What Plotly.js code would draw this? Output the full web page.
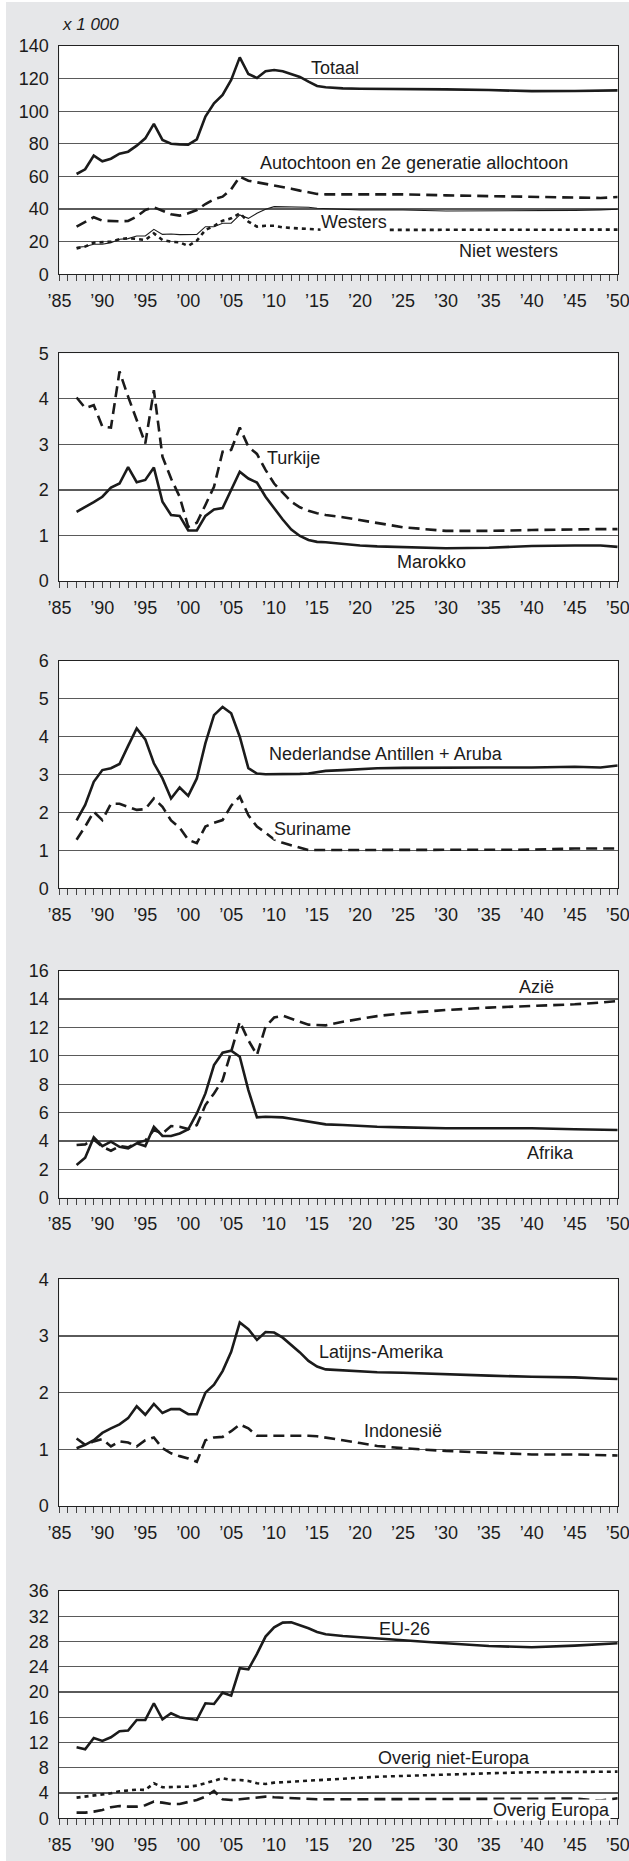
<!DOCTYPE html>
<html><head><meta charset="utf-8">
<script src="https://cdn.plot.ly/plotly-3.0.1.min.js"></script>
<style>html,body{margin:0;padding:0;background:#fff;} #chart{position:absolute;left:0;top:0;width:629px;height:1861px;}</style>
</head><body><div id="chart"></div>
<script>
const years = [1987,1988,1989,1990,1991,1992,1993,1994,1995,1996,1997,1998,1999,2000,2001,2002,2003,2004,2005,2006,2007,2008,2009,2010,2011,2012,2013,2014,2015,2016,2018,2020,2022,2025,2030,2035,2040,2045,2048,2050];

const totaal = [61.5,64.4,72.8,69.3,70.9,74.0,75.2,78.9,83.4,92.2,82.4,80.1,79.7,79.5,82.8,96.7,104.8,110.0,119.2,133.0,122.8,120.4,124.5,125.3,124.5,122.8,121.0,118.1,115.5,114.7,114.0,113.8,113.8,113.8,113.4,113.0,112.3,112.4,112.8,112.8];
const autochtoon = [29.2,32.3,35.0,32.9,32.5,32.5,32.7,35.4,39.4,41.1,39.0,36.8,36.0,37.4,39.4,43.1,46.0,47.6,52.1,59.9,57.4,56.4,55.8,54.8,53.7,52.5,51.3,50.1,49.3,49.0,49.0,49.0,49.0,49.0,48.4,48.0,47.4,47.2,46.8,47.4];
const westers = [16.5,17.0,18.4,18.4,19.4,21.5,21.9,23.5,23.5,27.6,24.5,24.7,24.3,24.3,24.5,29.2,29.2,31.3,31.3,36.4,34.3,37.4,39.9,41.5,41.5,41.5,41.3,41.1,40.5,40.2,39.9,39.4,39.4,39.4,38.8,38.8,38.8,39.2,39.5,39.9];
const nietWesters = [15.9,17.0,19.4,19.6,20.0,21.5,22.1,21.7,21.0,25.1,21.0,20.0,19.6,17.4,20.6,27.2,29.6,32.9,34.3,37.4,32.3,29.2,29.8,29.8,28.8,28.4,28.0,27.6,27.2,27.2,27.2,27.2,27.2,27.2,27.2,27.2,27.2,27.3,27.4,27.4];

const turkije = [4.03,3.80,3.86,3.39,3.37,4.60,4.05,3.54,3.02,4.19,2.73,2.25,1.85,1.19,1.28,1.67,2.07,2.84,2.88,3.37,2.95,2.79,2.44,2.14,1.93,1.74,1.62,1.54,1.49,1.45,1.40,1.34,1.27,1.18,1.10,1.10,1.12,1.14,1.14,1.14];
const marokko = [1.52,1.62,1.73,1.85,2.05,2.14,2.50,2.17,2.22,2.49,1.74,1.45,1.43,1.11,1.11,1.43,1.57,1.60,2.00,2.40,2.25,2.16,1.85,1.60,1.35,1.13,0.99,0.90,0.86,0.85,0.81,0.78,0.76,0.74,0.72,0.73,0.77,0.78,0.78,0.75];

const antillen = [1.79,2.20,2.81,3.12,3.17,3.28,3.76,4.22,3.93,3.30,2.90,2.37,2.66,2.44,2.90,3.83,4.57,4.79,4.62,4.00,3.17,3.03,3.01,3.01,3.01,3.01,3.02,3.03,3.06,3.10,3.12,3.15,3.17,3.18,3.19,3.19,3.19,3.21,3.19,3.24];
const suriname = [1.28,1.63,2.02,1.80,2.23,2.23,2.15,2.07,2.09,2.37,2.15,1.79,1.60,1.28,1.19,1.63,1.73,1.80,2.18,2.42,1.93,1.63,1.47,1.29,1.20,1.13,1.06,1.01,1.01,1.01,1.01,1.01,1.01,1.01,1.01,1.01,1.02,1.05,1.05,1.05];

const azie = [3.71,3.76,4.11,3.59,3.31,3.64,3.55,3.88,4.02,4.77,4.53,5.05,5.00,4.84,5.12,6.53,7.35,8.29,10.30,12.40,11.10,10.06,12.05,12.70,12.83,12.64,12.40,12.20,12.15,12.15,12.40,12.60,12.80,13.00,13.23,13.40,13.50,13.63,13.75,13.86];
const afrika = [2.30,2.82,4.25,3.64,3.95,3.59,3.48,3.83,3.64,5.00,4.35,4.35,4.53,4.82,5.94,7.35,9.35,10.22,10.36,9.94,7.59,5.66,5.71,5.71,5.66,5.57,5.47,5.36,5.24,5.17,5.12,5.05,5.00,4.96,4.89,4.89,4.89,4.82,4.80,4.77];

const latijnsAmerika = [1.02,1.08,1.16,1.29,1.37,1.44,1.55,1.76,1.61,1.80,1.64,1.71,1.71,1.62,1.62,2.00,2.14,2.38,2.72,3.24,3.12,2.93,3.07,3.06,2.97,2.84,2.71,2.56,2.46,2.41,2.39,2.38,2.36,2.35,2.32,2.30,2.28,2.27,2.25,2.24];
const indonesie = [1.19,1.08,1.14,1.18,1.05,1.14,1.12,1.05,1.16,1.21,1.02,0.93,0.88,0.84,0.78,1.16,1.21,1.22,1.32,1.44,1.37,1.24,1.24,1.24,1.25,1.25,1.25,1.24,1.23,1.21,1.16,1.11,1.06,1.02,0.97,0.94,0.91,0.91,0.90,0.89];

const eu26 = [11.25,10.93,12.72,12.25,12.83,13.78,13.89,15.58,15.58,18.22,15.68,16.63,16.00,15.73,15.58,18.22,18.11,19.90,19.43,23.76,23.60,26.03,28.78,30.25,30.99,31.05,30.62,30.10,29.51,29.14,28.88,28.67,28.51,28.25,27.72,27.30,27.09,27.35,27.55,27.72];
const overigNietEuropa = [3.27,3.43,3.59,3.80,3.96,4.28,4.38,4.54,4.49,5.54,4.91,4.91,5.02,5.02,5.17,5.54,5.97,6.34,6.07,6.07,5.91,5.54,5.44,5.65,5.72,5.81,5.88,5.95,6.07,6.12,6.30,6.49,6.58,6.71,6.97,7.13,7.29,7.39,7.39,7.39];
const overigEuropa = [0.90,0.90,1.06,1.32,1.74,1.95,1.85,1.85,2.06,2.64,2.48,2.27,2.27,2.64,2.90,3.43,4.33,3.01,2.90,3.01,3.17,3.33,3.43,3.33,3.25,3.17,3.10,3.05,3.01,3.01,3.01,3.01,3.01,3.01,3.01,3.12,3.12,3.12,2.80,3.17];

const xTickVals = [1985,1990,1995,2000,2005,2010,2015,2020,2025,2030,2035,2040,2045,2050];
const xTickText = ['’85','’90','’95','’00','’05','’10','’15','’20','’25','’30','’35','’40','’45','’50'];

const yMax = [140, 5, 6, 16, 4, 36];
const yStep = [20, 1, 1, 2, 1, 4];

// styles
const INK = '#1b1b1b';
const SOLID = {color: INK, width: 2.6};
const THIN = {color: INK, width: 1.1};
const DASH = {color: INK, width: 2.6, dash: '11px,6px'};
const DOT = {color: INK, width: 2.6, dash: '4px,4px'};

const panels = [
  {series: [[autochtoon, DASH], [westers, THIN], [nietWesters, DOT], [totaal, SOLID]],
   labels: [['Totaal', 2017.1, 126.3], ['Autochtoon en 2e generatie allochtoon', 2026.3, 68.5], ['Westers', 2019.3, 32.3, true], ['Niet westers', 2037.3, 14.5]]},
  {series: [[turkije, DASH], [marokko, SOLID]],
   labels: [['Turkije', 2012.3, 2.69, true], ['Marokko', 2028.3, 0.42]]},
  {series: [[suriname, DASH], [antillen, SOLID]],
   labels: [['Nederlandse Antillen + Aruba', 2023.0, 3.54], ['Suriname', 2014.5, 1.57, true]]},
  {series: [[azie, DASH], [afrika, SOLID]],
   labels: [['Azië', 2040.5, 14.83], ['Afrika', 2042.2, 3.17]]},
  {series: [[indonesie, DASH], [latijnsAmerika, SOLID]],
   labels: [['Latijns-Amerika', 2022.5, 2.72], ['Indonesië', 2025.0, 1.32]]},
  {series: [[overigNietEuropa, DOT], [overigEuropa, DASH], [eu26, SOLID]],
   labels: [['EU-26', 2025.2, 30.0], ['Overig niet-Europa', 2030.9, 9.6], ['Overig Europa', 2042.3, 1.32, true]]}
];

// pixel geometry of the plot boxes on the 629x1861 page
const W = 629, H = 1861;
const boxL = 59.4, boxR = 617.7;
const boxTB = [[46, 274.3], [353.3, 581], [661, 888.3], [970.7, 1197.7], [1279.3, 1506], [1591, 1818.3]];

const FONT = 'Liberation Sans, Arial, Helvetica, sans-serif';
const traces = [];
const annotations = [];
const layout = {
  width: W, height: H,
  margin: {l: 0, r: 0, t: 0, b: 0},
  paper_bgcolor: '#e6e7e9',
  plot_bgcolor: '#ffffff',
  showlegend: false,
  font: {family: FONT, size: 18, color: '#1b1b1b'},
  shapes: [
    {type: 'rect', xref: 'paper', yref: 'paper', x0: 0, x1: 6 / W, y0: 0, y1: 1, fillcolor: '#ffffff', line: {width: 0}, layer: 'below'},
    {type: 'rect', xref: 'paper', yref: 'paper', x0: 0, x1: 1, y0: 1 - 2 / H, y1: 1, fillcolor: '#ffffff', line: {width: 0}, layer: 'below'}
  ]
};

panels.forEach((p, i) => {
  const n = i === 0 ? '' : String(i + 1);
  const xa = 'x' + n, ya = 'y' + n;
  p.series.forEach(([vals, line]) => {
    traces.push({type: 'scatter', mode: 'lines', x: years, y: vals, xaxis: xa, yaxis: ya,
      line: Object.assign({}, line), hoverinfo: 'skip'});
  });
  const [top, bot] = boxTB[i];
  layout['xaxis' + n] = {
    domain: [boxL / W, boxR / W], anchor: ya,
    range: [1985, 2050], showgrid: false, zeroline: false,
    showline: true, linecolor: '#222', linewidth: 1, mirror: true,
    tickmode: 'array', tickvals: xTickVals, ticktext: xTickText,
    ticks: 'outside', ticklen: 6, tickcolor: '#444', tickwidth: 1,
    ticklabelstandoff: 4, ticklabeloverflow: 'allow',
    minor: {tick0: 1985, dtick: 1, ticks: 'outside', ticklen: 6, tickcolor: '#444', tickwidth: 1, showgrid: false},
    tickfont: {family: FONT, size: 18, color: '#1b1b1b'},
    fixedrange: true
  };
  layout['yaxis' + n] = {
    domain: [1 - bot / H, 1 - top / H], anchor: xa,
    range: [0, yMax[i]], dtick: yStep[i], tick0: 0,
    showgrid: true, gridcolor: '#5a5a5a', gridwidth: 1.2, zeroline: false,
    showline: true, linecolor: '#222', linewidth: 1, mirror: true,
    ticks: '', ticklabelstandoff: 6, ticklabeloverflow: 'allow',
    tickfont: {family: FONT, size: 18, color: '#1b1b1b'},
    fixedrange: true
  };
  p.labels.forEach(([txt, x, y, bg]) => {
    annotations.push({text: txt, x: x, y: y, xref: xa, yref: ya, showarrow: false,
      xanchor: 'center', yanchor: 'middle',
      bgcolor: bg ? '#ffffff' : 'rgba(0,0,0,0)', borderpad: 0,
      font: {family: FONT, size: 18, color: '#1b1b1b'}});
  });
});

annotations.push({text: 'x 1 000', xref: 'paper', yref: 'paper', x: 60 / W, y: 1 - 25 / H,
  xanchor: 'left', yanchor: 'middle', showarrow: false,
  font: {family: FONT, size: 17, color: '#1b1b1b', style: 'italic'}});
layout.annotations = annotations;

Plotly.newPlot('chart', traces, layout, {staticPlot: true, displayModeBar: false});
</script></body></html>
